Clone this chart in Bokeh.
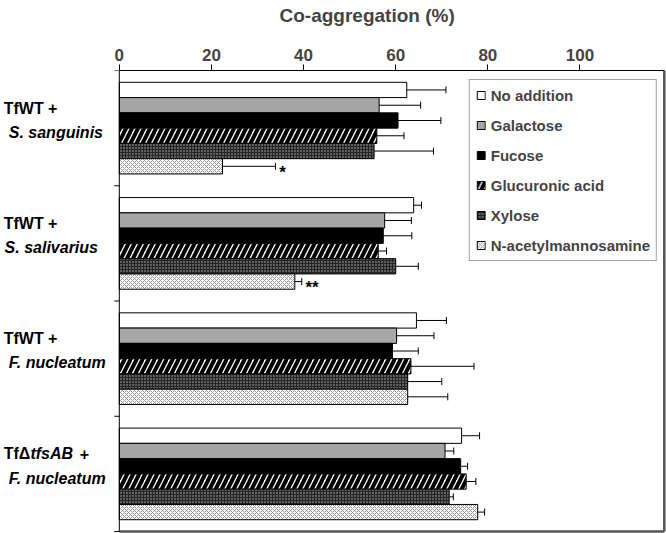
from bokeh.plotting import figure
from bokeh.models import Range1d, FixedTicker, Whisker, TeeHead, ColumnDataSource, Title
from bokeh.core.properties import value
from bokeh.embed import file_html
from bokeh.resources import INLINE

# ---------------- data ----------------
treatments = ["No addition", "Galactose", "Fucose", "Glucuronic acid", "Xylose", "N-acetylmannosamine"]
group_line1 = ["TfWT +", "TfWT +", "TfWT +", "TfΔtfsAB +"]
group_line2 = ["S. sanguinis", "S. salivarius", "F. nucleatum", "F. nucleatum"]

no_addition = [62.4, 63.9, 64.5, 74.3]
no_addition_err = [8.5, 1.7, 6.5, 3.9]
galactose = [56.4, 57.6, 60.2, 70.7]
galactose_err = [9.0, 5.8, 8.1, 1.9]
fucose = [60.5, 57.3, 59.3, 74.1]
fucose_err = [9.3, 6.2, 5.6, 1.5]
glucuronic = [55.9, 56.2, 63.3, 75.3]
glucuronic_err = [5.9, 1.8, 13.7, 2.1]
xylose = [55.3, 60.0, 62.6, 71.6]
xylose_err = [12.9, 4.9, 7.4, 0.9]
nacetyl = [22.4, 38.1, 62.6, 77.8]
nacetyl_err = [11.5, 1.5, 8.7, 1.5]
significance = ["*", "**", "", ""]

x_ticks = [0, 20, 40, 60, 80, 100]
x_axis_max = 118.3

means = [no_addition, galactose, fucose, glucuronic, xylose, nacetyl]
errs = [no_addition_err, galactose_err, fucose_err, glucuronic_err, xylose_err, nacetyl_err]

# ---------------- styles ----------------
FONT = "Liberation Sans"
styles = [
    dict(fill_color="white"),
    dict(fill_color="#a6a6a6"),
    dict(fill_color="black"),
    dict(fill_color="white", hatch_pattern="/", hatch_color="black", hatch_scale=12, hatch_weight=4),
    dict(fill_color="#5e5e5e", hatch_pattern="+", hatch_color="#262626", hatch_scale=3, hatch_weight=1),
    dict(fill_color="white", hatch_pattern="x", hatch_color="#9a9a9a", hatch_scale=4, hatch_weight=1),
]

n_groups = len(group_line2)
n_series = len(treatments)
slot = 0.795 / n_series
y_top, y_bottom = -0.5, n_groups - 0.5
boundaries = [b - 0.5 for b in range(n_groups + 1)]

p = figure(width=666, height=533, output_backend="svg", toolbar_location=None,
           x_range=Range1d(-25.79, 118.78), y_range=Range1d(3.517, y_top),
           x_axis_location="above", y_axis_location=None,
           min_border_left=0, min_border_right=0, min_border_top=68, min_border_bottom=0,
           background_fill_color="white", border_fill_color="white")
p.grid.visible = False
p.outline_line_color = None

for k, (name, m, e, st) in enumerate(zip(treatments, means, errs, styles)):
    ys = [g + (k - 2.5) * slot for g in range(n_groups)]
    src = ColumnDataSource(dict(y=ys, v=m, lo=[a - b for a, b in zip(m, e)], hi=[a + b for a, b in zip(m, e)]))
    p.hbar(y="y", left=0, right="v", height=slot, source=src, line_color="black", line_width=1,
           legend_label=name, **st)
    p.add_layout(Whisker(source=src, base="y", lower="lo", upper="hi", dimension="width",
                         line_color="black", line_width=1,
                         lower_head=TeeHead(size=7, line_color="black", line_width=1),
                         upper_head=TeeHead(size=7, line_color="black", line_width=1)))
    if k == n_series - 1:
        tsrc = ColumnDataSource(dict(x=[a + b + 0.8 for a, b in zip(m, e)], y=ys, t=significance))
        p.text(x="x", y="y", text="t", source=tsrc, text_font=value(FONT), text_font_style="bold",
               text_font_size="17px", text_baseline="middle", text_align="left", y_offset=6,
               text_color="black")

# plot-area border (right, bottom) and category axis on the left
p.segment(x0=[x_axis_max, 0], y0=[y_top, y_bottom], x1=[x_axis_max, x_axis_max], y1=[y_bottom, y_bottom],
          line_color="#555555", line_width=2.5)
p.segment(x0=[0], y0=[y_top], x1=[0], y1=[y_bottom], line_color="black", line_width=1)
p.ray(x=[0] * len(boundaries), y=boundaries, length=5, length_units="screen", angle=180,
      angle_units="deg", line_color="black", line_width=1)

# top value axis
xa = p.xaxis[0]
xa.ticker = FixedTicker(ticks=x_ticks)
xa.bounds = (0, x_axis_max)
xa.minor_tick_line_color = None
xa.major_tick_out = 6
xa.major_tick_in = 0
xa.axis_line_color = "black"
xa.major_label_text_font = FONT
xa.major_label_text_font_style = "bold"
xa.major_label_text_font_size = "17px"
xa.major_label_standoff = 4

# empty spacer panel between the tick labels and the axis title
p.add_layout(Title(text=" ", standoff=0, text_font=FONT, text_font_size="14px"), "above")
p.add_layout(Title(text="Co-aggregation (%)", align="left", offset=279, standoff=4,
                   text_font=FONT, text_font_style="bold", text_font_size="19px"), "above")

# group labels (two lines, left of the category axis)
y1_off, y2_off = -0.173, 0.036
line1_src = ColumnDataSource(dict(x=[-25.1, -25.1, -25.1], y=[g + y1_off for g in range(3)], t=group_line1[:3]))
p.text(x="x", y="y", text="t", source=line1_src, text_font=value(FONT), text_font_style="bold",
       text_font_size="16px", text_baseline="middle", text_color="black")
# fourth group: "TfΔ" + italic "tfsAB" + " +"
g4 = ColumnDataSource(dict(x=[-25.1, -8.6], y=[3 + y1_off] * 2, t=["TfΔ", "+"]))
p.text(x="x", y="y", text="t", source=g4, text_font=value(FONT), text_font_style="bold",
       text_font_size="16px", text_baseline="middle", text_color="black")
g4i = ColumnDataSource(dict(x=[-19.3], y=[3 + y1_off], t=["tfsAB"]))
p.text(x="x", y="y", text="t", source=g4i, text_font=value(FONT), text_font_style="bold italic",
       text_font_size="16px", text_baseline="middle", text_color="black")
line2_src = ColumnDataSource(dict(x=[-24.0, -24.9, -24.0, -24.0], y=[g + y2_off for g in range(n_groups)],
                                  t=group_line2))
p.text(x="x", y="y", text="t", source=line2_src, text_font=value(FONT), text_font_style="bold italic",
       text_font_size="16px", text_baseline="middle", text_color="black")

# legend
lg = p.legend[0]
lg.location = "top_right"
lg.margin = 9
lg.label_text_font = FONT
lg.label_text_font_style = "bold"
lg.label_text_font_size = "15px"
lg.glyph_width = 10
lg.glyph_height = 10
lg.label_height = 18
lg.label_standoff = 5
lg.spacing = 12
lg.padding = 6
lg.border_line_color = "#404040"
lg.border_line_width = 1.5
lg.background_fill_alpha = 1.0

open("out.html", "w").write(file_html(p, INLINE))
